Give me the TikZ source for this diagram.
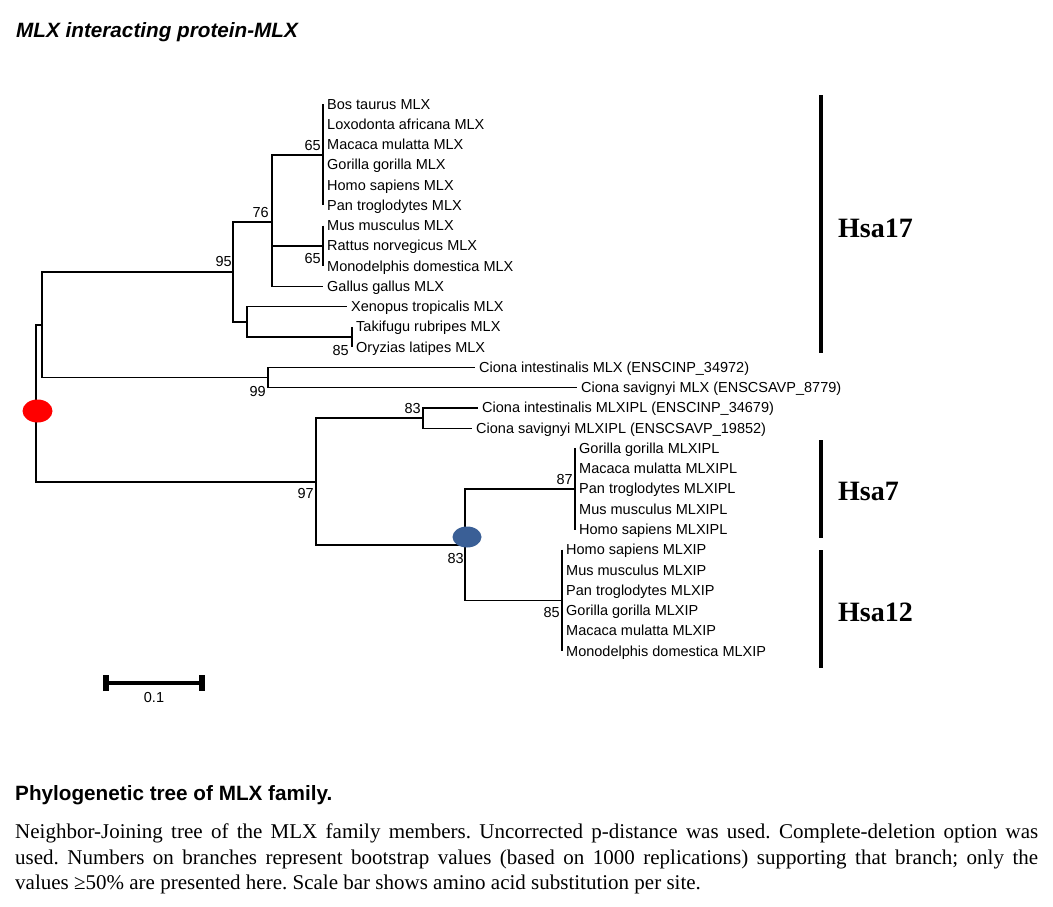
\documentclass[tikz,border=0pt]{standalone}
\usepackage{fontspec}
\setmainfont{Liberation Serif}
\setsansfont{Liberation Sans}
\usetikzlibrary{arrows.meta,shapes.geometric}
\definecolor{rootred}{RGB}{255,0,0}
\definecolor{cladeblue}{RGB}{58,95,150}
\newcommand{\leaffont}{\sffamily\fontsize{14.5}{16}\selectfont}

\begin{document}
\begin{tikzpicture}[x=1pt,y=-1pt,every node/.style={inner sep=0pt},
	leaf/.style={anchor=west,inner xsep=4pt,text height=10pt,text depth=0pt,font=\leaffont},
	boot/.style={anchor=east,text height=10pt,text depth=0pt,font=\leaffont},
	branch/.style={line width=1.4pt},
	chrbar/.style={line width=4.5pt},
	chrlabel/.style={anchor=west,text height=18.5pt,text depth=0pt,font=\bfseries\fontsize{28}{30}\selectfont},
	rootdot/.style={ellipse,fill=rootred,minimum width=30pt,minimum height=23pt},
	cladedot/.style={ellipse,fill=cladeblue,minimum width=29pt,minimum height=21pt}]
	\useasboundingbox (0,0) rectangle (1053,906);
	
	\node[anchor=base west,font=\sffamily\bfseries\itshape\fontsize{20.7}{23}\selectfont] (title) at (16,37){MLX interacting protein-MLX};
	
	%leaves
	\node[leaf] (bos) at (323,104.0){Bos taurus MLX};
	\node[leaf] (lox) at (323,124.3){Loxodonta africana MLX};
	\node[leaf] (mac) at (323,144.5){Macaca mulatta MLX};
	\node[leaf] (gor) at (323,164.8){Gorilla gorilla MLX};
	\node[leaf] (hom) at (323,185.0){Homo sapiens MLX};
	\node[leaf] (pan) at (323,205.3){Pan troglodytes MLX};
	\node[leaf] (mus) at (323,225.6){Mus musculus MLX};
	\node[leaf] (rat) at (323,245.8){Rattus norvegicus MLX};
	\node[leaf] (mon) at (323,266.1){Monodelphis domestica MLX};
	\node[leaf] (gal) at (323,286.3){Gallus gallus MLX};
	\node[leaf] (xen) at (347,306.6){Xenopus tropicalis MLX};
	\node[leaf] (tak) at (352,326.9){Takifugu rubripes MLX};
	\node[leaf] (ory) at (352,347.1){Oryzias latipes MLX};
	\node[leaf] (cim) at (475,367.4){Ciona intestinalis MLX (ENSCINP\_34972)};
	\node[leaf] (csm) at (577,387.6){Ciona savignyi MLX (ENSCSAVP\_8779)};
	\node[leaf] (cil) at (478,407.9){Ciona intestinalis MLXIPL (ENSCINP\_34679)};
	\node[leaf] (csl) at (472,428.2){Ciona savignyi MLXIPL (ENSCSAVP\_19852)};
	\node[leaf] (gorl) at (575,448.4){Gorilla gorilla MLXIPL};
	\node[leaf] (macl) at (575,468.7){Macaca mulatta MLXIPL};
	\node[leaf] (panl) at (575,488.9){Pan troglodytes MLXIPL};
	\node[leaf] (musl) at (575,509.2){Mus musculus MLXIPL};
	\node[leaf] (homl) at (575,529.5){Homo sapiens MLXIPL};
	\node[leaf] (homp) at (562,549.7){Homo sapiens MLXIP};
	\node[leaf] (musp) at (562,570.0){Mus musculus MLXIP};
	\node[leaf] (panp) at (562,590.2){Pan troglodytes MLXIP};
	\node[leaf] (gorp) at (562,610.5){Gorilla gorilla MLXIP};
	\node[leaf] (macp) at (562,630.8){Macaca mulatta MLXIP};
	\node[leaf] (monp) at (562,651.0){Monodelphis domestica MLXIP};
	
	%inner nodes
	\coordinate (root) at (36,403.5);
	\coordinate (up) at (42,325);
	\coordinate (n95) at (233,272);
	\coordinate (n76) at (272,222);
	\coordinate (c65a) at (323,155);
	\coordinate (c65b) at (323,245.8);
	\coordinate (nxt) at (247,322);
	\coordinate (c85a) at (352,337);
	\coordinate (n99) at (268,377.5);
	\coordinate (n97) at (316,482);
	\coordinate (n83a) at (423,418);
	\coordinate (n83b) at (465,545);
	\coordinate (c87) at (575,489);
	\coordinate (c85b) at (562,600.4);
	
	\begin{scope}[branch]
	%upper part
	\draw (root) |- (up);
	\draw (up) |- (n95);
	\draw (up) |- (n99);
	\draw (n95) |- (n76);
	\draw (n95) |- (nxt);
	\draw (n76) |- (c65a);
	\draw (n76) |- (c65b);
	\draw (n76) |- (gal.west);
	\draw (bos.west) -- (pan.west);
	\draw (mus.west) -- (mon.west);
	\draw (nxt) |- (xen.west);
	\draw (nxt) |- (c85a);
	\draw (tak.west) -- (ory.west);
	\draw (n99) |- (cim.west);
	\draw (n99) |- (csm.west);
	%lower part
	\draw (root) |- (n97);
	\draw (n97) |- (n83a);
	\draw (n97) |- (n83b);
	\draw (n83a) |- (cil.west);
	\draw (n83a) |- (csl.west);
	\draw (n83b) |- (c87);
	\draw (n83b) |- (c85b);
	\draw (gorl.west) -- (homl.west);
	\draw (homp.west) -- (monp.west);
	\end{scope}
	
	%bootstrap values
	\node[boot] (b65a) at (321,145){65};
	\node[boot] (b65b) at (321,258){65};
	\node[boot] (b76) at (269,212){76};
	\node[boot] (b95) at (232,261){95};
	\node[boot] (b85a) at (349,350){85};
	\node[boot] (b99) at (266,391){99};
	\node[boot] (b83a) at (421,408){83};
	\node[boot] (b97) at (314,493){97};
	\node[boot] (b83b) at (464,558){83};
	\node[boot] (b87) at (573,479){87};
	\node[boot] (b85b) at (560,612){85};
	
	\node[rootdot] (rootmark) at (37.5,411){};
	\node[cladedot] (clademark) at (467,537){};
	
	%chromosomes
	\coordinate (h17t) at (821,95);
	\coordinate (h17b) at (821,353);
	\coordinate (h7t) at (821,440);
	\coordinate (h7b) at (821,538);
	\coordinate (h12t) at (821,550);
	\coordinate (h12b) at (821,668);
	\draw[chrbar] (h17t) -- (h17b);
	\draw[chrbar] (h7t) -- (h7b);
	\draw[chrbar] (h12t) -- (h12b);
	\node[chrlabel] (hsa17) at (838,228){Hsa17};
	\node[chrlabel] (hsa7) at (838,491){Hsa7};
	\node[chrlabel] (hsa12) at (838,612){Hsa12};
	
	%scale bar
	\coordinate (sbl) at (103,683);
	\coordinate (sbr) at (205,683);
	\draw[line width=4pt,{Bar[width=16pt,line width=6pt]}-{Bar[width=16pt,line width=6pt]}] (sbl) -- (sbr);
	\node[font=\leaffont] (sblabel) at (154,697){0.1};
	
	%caption
	\node[anchor=base west,font=\sffamily\bfseries\fontsize{20.7}{23}\selectfont] (captitle) at (15,800){Phylogenetic tree of MLX family.};
	\node[anchor=north west,text width=1023pt,align=justify,font=\fontsize{21}{25.5}\selectfont] (captext) at (15,824){\tolerance=9999\frenchspacing Neighbor-Joining tree of the MLX family members. Uncorrected p-distance was used. Complete-deletion option was\linebreak used. Numbers on branches represent bootstrap values (based on 1000 replications) supporting that branch; only the\linebreak values ≥50\% are presented here. Scale bar shows amino acid substitution per site.};
\end{tikzpicture}
\end{document}
